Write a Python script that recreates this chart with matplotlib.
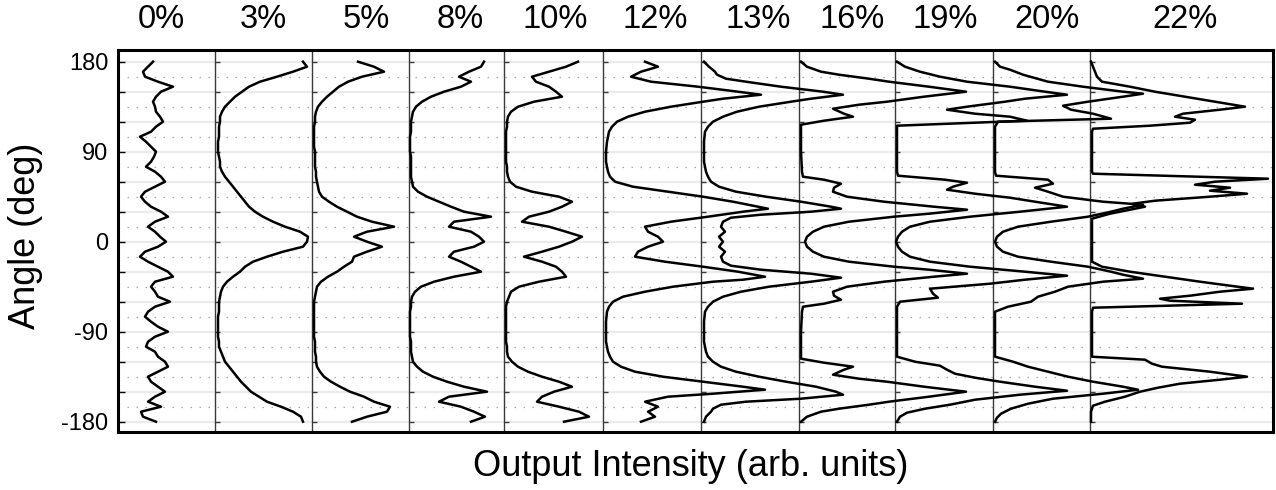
import numpy as np
import matplotlib
matplotlib.use("Agg")
import matplotlib.pyplot as plt

W, H = 1276, 490
plt.rcParams['font.family'] = ['Liberation Sans', 'DejaVu Sans']

# ---------------- data ----------------
labels = ["0%", "3%", "5%", "8%", "10%", "12%", "13%", "16%", "19%", "20%", "22%"]

# common 5-degree angle grid (180 -> -180) for the low-concentration traces
grid5 = list(range(180, -181, -5))

i0 = [35, 30, 25, 27, 40, 55, 43, 38, 35, 37,
      38, 42, 45, 38, 33, 22, 28, 33, 38, 36,
      33, 28, 37, 43, 47, 37, 27, 23, 27, 33,
      43, 50, 37, 30, 37, 42, 48, 40, 27, 22,
      30, 40, 50, 55, 37, 33, 37, 40, 52, 37,
      30, 27, 33, 40, 50, 37, 30, 28, 37, 40,
      47, 50, 40, 30, 33, 40, 47, 37, 30, 43,
      23, 25, 38]
i3 = [88, 92, 78, 62, 45, 34, 27, 20, 15, 10,
      7, 5, 5, 4, 4, 4, 3, 3, 3, 4,
      5, 5, 7, 10, 14, 18, 22, 26, 30, 34,
      40, 48, 58, 70, 85, 93, 92, 88, 68, 52,
      38, 30, 25, 18, 12, 8, 6, 5, 4, 4,
      4, 3, 3, 3, 3, 3, 4, 4, 6, 8,
      10, 14, 18, 22, 26, 31, 36, 44, 52, 66,
      78, 86, 88]
i5 = [46, 62, 72, 50, 36, 27, 21, 15, 10, 6,
      4, 3, 3, 2, 2, 2, 2, 2, 3, 3,
      3, 3, 4, 4, 5, 6, 7, 10, 17, 25,
      35, 45, 60, 82, 55, 42, 55, 70, 55, 42,
      40, 32, 25, 16, 9, 5, 4, 3, 2, 2,
      2, 2, 2, 2, 2, 2, 3, 3, 3, 4,
      4, 5, 8, 12, 19, 28, 38, 52, 62, 78,
      75, 55, 40]
i8 = [75, 72, 60, 50, 62, 52, 35, 22, 13, 7,
      4, 3, 2, 2, 2, 1, 1, 1, 1, 2,
      2, 2, 2, 2, 3, 4, 9, 18, 30, 42,
      55, 82, 45, 40, 62, 70, 75, 65, 45, 40,
      52, 62, 72, 45, 25, 12, 6, 3, 2, 2,
      1, 1, 1, 1, 1, 1, 2, 2, 2, 3,
      4, 8, 14, 24, 38, 55, 78, 40, 30, 52,
      65, 76, 62]
i10 = [74, 62, 45, 28, 32, 45, 52, 58, 30, 14,
       7, 4, 3, 3, 2, 2, 2, 2, 2, 2,
       2, 3, 3, 4, 6, 12, 28, 55, 68, 58,
       45, 25, 18, 45, 62, 78, 68, 55, 38, 20,
       38, 52, 58, 62, 35, 15, 7, 5, 3, 2,
       2, 2, 2, 2, 2, 2, 2, 3, 3, 4,
       8, 14, 24, 38, 55, 68, 50, 38, 33, 55,
       75, 85, 60]

# key points for the higher-concentration traces
a12 = [180, 175, 170, 165, 160, 155, 150, 147, 143, 140, 135, 130, 125, 120, 115,
       110, 100, 90, 80, 70, 65, 60, 55, 50, 45, 40, 35, 33, 30, 25, 20, 15, 10, 5, 0,
       -5, -10, -15, -20, -25, -30, -35, -38, -40, -45, -50, -55, -60, -65, -70,
       -80, -90, -100, -110, -115, -120, -125, -130, -135, -140, -145, -148, -152,
       -155, -160, -165, -170, -175, -180]
i12 = [42, 55, 38, 28, 48, 95, 135, 158, 120, 100, 68, 42, 25, 14, 9,
       6, 4, 3, 3, 5, 7, 12, 30, 65, 100, 130, 155, 165, 140, 105, 68, 42, 45, 55, 60,
       45, 35, 32, 62, 100, 135, 162, 140, 110, 70, 42, 20, 10, 6, 4,
       3, 3, 3, 5, 7, 10, 18, 32, 60, 100, 140, 162, 110,
       65, 42, 55, 45, 52, 38]

a13 = [180, 175, 170, 167, 163, 160, 155, 150, 147, 143, 140, 135, 130, 125, 120,
       115, 110, 100, 90, 80, 70, 65, 60, 55, 50, 45, 40, 35, 33, 30, 27, 24, 20, 15,
       10, 5, 0, -5, -10, -15, -20, -24, -28, -32, -36, -40, -45, -50, -55, -60, -65,
       -70, -80, -90, -100, -110, -115, -120, -125, -130, -135, -140, -145, -150,
       -153, -157, -160, -163, -167, -170, -175, -180]
i13 = [3, 8, 14, 16, 25, 45, 80, 122, 142, 110, 90, 58, 36, 22, 12,
       7, 4, 3, 3, 3, 5, 7, 10, 18, 35, 65, 100, 130, 140, 110, 60, 30, 22, 20,
       24, 18, 22, 18, 24, 20, 22, 30, 60, 110, 140, 110, 68, 40, 22, 12, 7,
       4, 3, 3, 3, 5, 7, 12, 20, 35, 58, 85, 115, 135,
       142, 100, 45, 20, 12, 10, 5, 3]

a16 = [180, 175, 170, 167, 163, 160, 155, 150, 145, 140, 137, 133, 128, 125, 121,
       117, 110, 90, 70, 65, 62, 58, 54, 50, 45, 40, 35, 32, 28, 25, 20, 15, 10, 5, 0,
       -5, -10, -15, -20, -25, -28, -32, -35, -40, -45, -50, -54, -58, -62, -65,
       -70, -90, -110, -117, -121, -125, -128, -133, -137, -140, -145, -150, -155,
       -160, -163, -167, -170, -175, -180]
i16 = [2, 8, 22, 40, 70, 90, 130, 167, 125, 88, 60, 34, 45, 54, 25,
       2, 2, 2, 3, 4, 25, 42, 35, 34, 48, 85, 135, 168, 130, 95, 50, 25, 14, 8, 6,
       8, 14, 25, 50, 95, 130, 168, 135, 85, 48, 34, 35, 42, 25, 4,
       3, 2, 2, 2, 25, 54, 45, 34, 60, 88, 125, 167, 130,
       90, 70, 40, 22, 8, 2]

a19 = [180, 175, 170, 165, 160, 155, 150, 147, 143, 140, 135, 132, 128, 125, 121,
       116, 110, 90, 70, 66, 62, 59, 55, 52, 48, 44, 40, 35, 30, 25, 20, 15, 10, 5, 0,
       -5, -10, -15, -20, -25, -30, -34, -38, -42, -47, -52, -56, -60, -65, -90,
       -115, -120, -124, -128, -132, -136, -140, -145, -149, -153, -158, -163, -167,
       -171, -175, -180]
i19 = [2, 10, 25, 45, 72, 115, 150, 172, 130, 110, 72, 52, 80, 115, 132,
       2, 2, 2, 2, 3, 50, 72, 58, 52, 80, 115, 140, 172, 125, 75, 35, 15, 7, 3, 1,
       3, 7, 15, 35, 75, 130, 172, 130, 95, 35, 38, 43, 5, 2, 2,
       2, 20, 45, 52, 60, 80, 105, 140, 172, 125, 80, 55, 30,
       12, 5, 2]

a20 = [180, 175, 172, 167, 160, 155, 150, 148, 145, 140, 136, 132, 128, 123, 120,
       115, 90, 70, 66, 62, 58, 54, 50, 45, 40, 37, 33, 30, 25, 20, 15, 10, 5, 0, -5,
       -10, -15, -20, -25, -30, -33, -37, -40, -45, -50, -55, -60, -65, -70, -90,
       -115, -120, -125, -130, -135, -140, -145, -148, -152, -157, -162, -167, -172,
       -176, -180]
i20 = [2, 7, 17, 30, 55, 90, 130, 150, 130, 95, 70, 78, 100, 118, 5,
       2, 2, 2, 3, 55, 60, 42, 55, 70, 110, 150, 130, 118, 95, 58, 25, 10, 4, 2, 4,
       10, 25, 58, 95, 118, 130, 150, 110, 75, 62, 45, 38, 15, 2, 2,
       2, 20, 35, 55, 75, 100, 130, 145, 110, 60, 35, 18, 8,
       4, 2]

a22 = [180, 175, 170, 165, 160, 155, 150, 145, 140, 135, 132, 128, 125, 122, 119,
       116, 113, 110, 90, 70, 68, 63, 60, 57, 54, 51, 48, 45, 41, 38, 35, 32, 28, 23,
       0, -20, -25, -30, -35, -40, -44, -47, -50, -54, -57, -59, -62, -66, -70, -90,
       -115, -118, -122, -125, -130, -135, -138, -142, -146, -150, -155, -160, -164,
       -170, -180]
i22 = [1, 3, 5, 7, 12, 40, 65, 95, 125, 155, 130, 93, 85, 105, 100,
       60, 3, 2, 2, 2, 3, 178, 125, 105, 140, 120, 157, 120, 65, 43, 55, 40, 20, 2,
       2, 2, 12, 40, 75, 110, 140, 163, 130, 100, 70, 80, 152, 3, 2, 2,
       2, 55, 62, 72, 120, 157, 130, 90, 68, 50, 35, 15, 3,
       1, 1]

traces = [(grid5, i0), (grid5, i3), (grid5, i5), (grid5, i8), (grid5, i10),
          (a12, i12), (a13, i13), (a16, i16), (a19, i19), (a20, i20), (a22, i22)]

yticks_major = [180, 90, 0, -90, -180]
yticks_all = list(range(180, -181, -30))
dotted_levels = list(range(165, -166, -30))

# ---------------- layout (pixels of the 1276x490 canvas) ----------------
AX_L, AX_R, AX_T, AX_B = 118, 1273, 50, 432
baseline_px = [118, 215, 312, 409, 504, 603, 701, 799, 895, 993, 1090]
label_x_px = [161, 263, 366, 460, 555, 655, 758, 852, 945, 1047, 1185]

fig = plt.figure(figsize=(W / 100, H / 100), dpi=100)
ax = fig.add_axes([AX_L / W, 1 - AX_B / H, (AX_R - AX_L) / W, (AX_B - AX_T) / H])
ax.set_xlim(0, AX_R - AX_L)
ax.set_ylim(-190.3, 191.7)

# faint horizontal bands and dotted gridlines
for lv in yticks_all:
    ax.axhline(lv, color='#ebebeb', lw=1.6, zorder=0)
for lv in dotted_levels:
    ax.axhline(lv, color='#a8a8a8', lw=0.9, ls=(0, (1.2, 6)), zorder=0.5)

offsets = [b - AX_L for b in baseline_px]

# baseline separators with small tick marks
for k, off in enumerate(offsets):
    if k > 0:
        ax.axvline(off, color='#3a3a3a', lw=1.0, zorder=1)
        ax.hlines(yticks_all, off, off + 5, color='#3a3a3a', lw=1.0, zorder=1)

# traces
for (ang, val), off in zip(traces, offsets):
    ang = np.asarray(ang, float)
    val = np.asarray(val, float)
    ax.plot(off + val, ang, color='black', lw=1.8, solid_joinstyle='round', zorder=3)

# axes styling
for s in ax.spines.values():
    s.set_linewidth(2.2)
    s.set_color('black')
ax.set_xticks([])
ax.set_yticks(yticks_major)
ax.set_yticklabels([str(t) for t in yticks_major])
ax.set_yticks([t for t in yticks_all if t not in yticks_major], minor=True)
ax.tick_params(axis='y', which='both', direction='in', length=5, width=1.0,
               labelsize=17, pad=7, right=False)

# top labels
for lab, xp in zip(labels, label_x_px):
    fig.text(xp / W, 1 - 19 / H, lab, ha='center', va='center', fontsize=23.5)

fig.text(26 / W, 1 - 236 / H, "Angle (deg)", rotation=90, ha='center', va='center',
         fontsize=26)
fig.text(691 / W, 1 - 466 / H, "Output Intensity (arb. units)", ha='center',
         va='center', fontsize=26)

fig.savefig("out.png", dpi=100)
